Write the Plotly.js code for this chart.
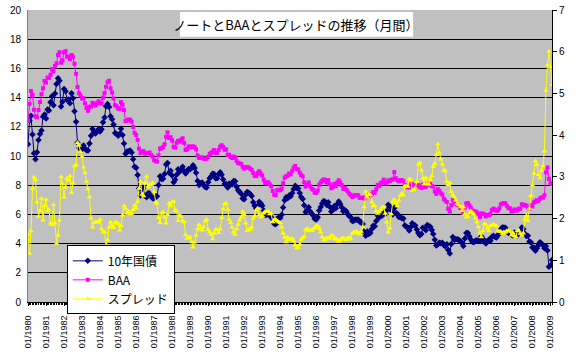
<!DOCTYPE html>
<html>
<head>
<meta charset="utf-8">
<script src="https://cdn.plot.ly/plotly-3.0.1.min.js"></script>
<style>html,body{margin:0;padding:0;background:#fff;}#chart{width:580px;height:354px;}</style>
</head>
<body>
<div id="chart"></div>
<script>
const startYear = 1980;
const titleText = "ノートとBAAとスプレッドの推移（月間）";
const seriesNames = ["10年国債", "BAA", "スプレッド"];
// 10-year treasury yield, monthly, 01/1980 - 02/2009
const tenYear = [
 10.80,12.41,12.75,11.47,10.18,9.78,10.25,11.10,11.51,11.75,12.68,12.84,
 12.57,13.19,13.12,13.68,14.10,13.47,14.28,14.94,15.32,15.15,13.39,13.72,
 14.59,14.43,13.86,13.87,13.62,14.30,13.95,13.06,12.34,10.91,10.55,10.54,
 10.46,10.72,10.51,10.40,10.38,10.85,11.38,11.85,11.65,11.54,11.69,11.83,
 11.67,11.84,12.32,12.63,13.41,13.56,13.36,12.72,12.52,12.16,11.57,11.50,
 11.38,11.51,11.86,11.43,10.85,10.16,10.31,10.33,10.37,10.24,9.78,9.26,
 9.19,8.70,7.78,7.30,7.71,7.80,7.30,7.17,7.45,7.43,7.25,7.11,
 7.08,7.25,7.25,8.02,8.61,8.40,8.45,8.76,9.42,9.52,8.86,8.99,
 8.67,8.21,8.37,8.72,9.09,8.92,9.06,9.26,8.98,8.80,8.96,9.11,
 9.09,9.17,9.36,9.18,8.86,8.28,8.02,8.11,8.19,8.01,7.87,7.84,
 8.21,8.47,8.59,8.79,8.76,8.48,8.47,8.75,8.89,8.72,8.39,8.08,
 8.09,7.85,8.11,8.04,8.07,8.28,8.27,7.90,7.65,7.53,7.42,7.09,
 7.03,7.34,7.54,7.48,7.39,7.26,6.84,6.59,6.42,6.59,6.87,6.77,
 6.60,6.26,5.98,5.97,6.04,5.96,5.81,5.68,5.36,5.33,5.72,5.77,
 5.75,5.97,6.48,6.97,7.18,7.10,7.30,7.24,7.46,7.74,7.96,7.81,
 7.78,7.47,7.20,7.06,6.63,6.17,6.28,6.49,6.20,6.04,5.93,5.71,
 5.65,5.81,6.27,6.51,6.74,6.91,6.87,6.64,6.83,6.53,6.20,6.30,
 6.58,6.42,6.69,6.89,6.71,6.49,6.22,6.30,6.21,6.03,5.88,5.81,
 5.54,5.57,5.65,5.64,5.65,5.50,5.46,5.34,4.81,4.53,4.83,4.65,
 4.72,5.00,5.23,5.18,5.54,5.90,5.79,5.94,5.92,6.11,6.03,6.28,
 6.66,6.52,6.26,5.99,6.44,6.10,6.05,5.83,5.80,5.74,5.72,5.24,
 5.16,5.10,4.89,5.14,5.39,5.28,5.24,4.97,4.73,4.57,4.65,5.09,
 5.04,4.91,5.28,5.21,5.16,4.93,4.65,4.26,3.87,3.94,4.05,4.03,
 4.05,3.90,3.81,3.96,3.57,3.33,3.98,4.45,4.27,4.29,4.30,4.27,
 4.15,4.08,3.83,4.35,4.72,4.73,4.50,4.28,4.13,4.10,4.19,4.23,
 4.22,4.17,4.50,4.34,4.14,4.00,4.18,4.26,4.20,4.46,4.54,4.47,
 4.42,4.57,4.72,4.99,5.11,5.11,5.09,4.88,4.72,4.73,4.60,4.56,
 4.76,4.72,4.56,4.69,4.75,5.10,5.00,4.67,4.52,4.53,4.15,4.10,
 3.74,3.74,3.51,3.68,3.88,4.10,4.01,3.89,3.69,3.81,3.53,2.42,
 2.52,2.87
];
// Moody's BAA corporate yield, monthly, 01/1980 - 02/2009
const baa = [
 12.42,13.57,14.45,14.19,13.17,12.71,12.65,13.15,13.70,14.23,14.64,15.14,
 15.03,15.37,15.34,15.56,15.95,15.80,16.17,16.34,16.92,17.11,16.39,16.55,
 17.10,17.18,16.82,16.78,16.64,16.92,16.80,16.32,15.63,14.73,14.30,14.14,
 13.94,13.95,13.61,13.29,13.09,13.37,13.39,13.64,13.55,13.46,13.61,13.75,
 13.65,13.59,13.99,14.31,14.74,15.05,15.15,14.63,14.35,13.94,13.48,13.40,
 13.26,13.23,13.69,13.51,13.15,12.40,12.43,12.50,12.48,12.36,11.99,11.58,
 11.44,11.11,10.50,10.19,10.29,10.34,10.16,10.18,10.20,10.24,10.07,9.97,
 9.72,9.65,9.61,10.04,10.51,10.52,10.61,10.80,11.31,11.62,11.23,11.29,
 11.07,10.62,10.57,10.90,11.04,11.00,11.11,11.21,10.90,10.41,10.48,10.65,
 10.65,10.61,10.67,10.61,10.46,10.03,9.87,9.88,9.91,9.81,9.81,9.82,
 9.94,10.14,10.21,10.30,10.41,10.22,10.20,10.41,10.64,10.74,10.62,10.43,
 10.45,10.07,10.09,9.94,9.86,9.96,9.89,9.65,9.51,9.49,9.45,9.26,
 9.13,9.23,9.25,9.21,9.13,9.05,8.84,8.65,8.62,8.84,8.96,8.81,
 8.67,8.39,8.15,8.14,8.21,8.07,7.93,7.60,7.34,7.31,7.66,7.69,
 7.65,7.76,8.13,8.52,8.62,8.65,8.80,8.74,8.98,9.20,9.32,9.10,
 9.08,8.85,8.70,8.60,8.20,7.90,8.04,8.19,7.93,7.75,7.68,7.49,
 7.47,7.63,8.03,8.19,8.30,8.40,8.35,8.18,8.35,8.07,7.79,7.89,
 8.09,7.94,8.18,8.34,8.20,8.02,7.75,7.82,7.70,7.57,7.42,7.32,
 7.19,7.25,7.32,7.33,7.30,7.13,7.15,7.14,7.09,7.18,7.34,7.23,
 7.29,7.39,7.53,7.48,7.72,8.02,7.95,8.15,8.20,8.38,8.15,8.19,
 8.33,8.29,8.37,8.40,8.90,8.48,8.35,8.26,8.35,8.34,8.28,8.02,
 7.93,7.87,7.84,8.07,8.07,7.97,7.97,7.85,8.03,7.91,7.81,8.05,
 7.87,7.89,8.11,8.03,8.09,7.95,7.90,7.58,7.40,7.73,7.62,7.45,
 7.35,7.06,6.95,6.85,6.38,6.19,6.62,7.01,6.79,6.73,6.66,6.60,
 6.44,6.27,6.11,6.46,6.75,6.78,6.62,6.46,6.27,6.21,6.20,6.15,
 6.02,5.82,6.06,6.05,6.01,5.86,5.95,5.96,6.03,6.30,6.39,6.32,
 6.24,6.27,6.41,6.68,6.75,6.78,6.76,6.59,6.43,6.42,6.20,6.22,
 6.34,6.28,6.27,6.39,6.39,6.70,6.65,6.65,6.59,6.48,6.40,6.65,
 6.54,6.82,6.89,6.97,6.93,7.07,7.16,7.15,7.31,8.88,9.21,8.43,
 8.14,8.08
];
// spread = BAA - 10-year
const spread = baa.map((v, i) => Math.round((v - tenYear[i]) * 100) / 100);

const months = baa.map((_, i) => {
  const y = startYear + Math.floor(i / 12);
  const m = (i % 12) + 1;
  return y + "-" + (m < 10 ? "0" + m : m) + "-01";
});
const tickYears = [];
for (let y = startYear; y <= 2009; y++) tickYears.push(y);
const tickVals = tickYears.map(y => y + "-01-01");
const tickText = tickYears.map(y => "01/" + y);

const font = "Liberation Sans, Arial, sans-serif";
const jfont = "Noto Sans CJK JP, sans-serif";

const traces = [
  {x: months, y: tenYear, name: seriesNames[0], type: "scatter", mode: "lines+markers",
   line: {color: "#000080", width: 1}, marker: {symbol: "diamond", size: 5, color: "#000080"}},
  {x: months, y: baa, name: seriesNames[1], type: "scatter", mode: "lines+markers",
   line: {color: "#FF00FF", width: 1}, marker: {symbol: "square", size: 4, color: "#FF00FF"}},
  {x: months, y: spread, name: seriesNames[2], type: "scatter", mode: "lines+markers", yaxis: "y2",
   line: {color: "#FFFF00", width: 1}, marker: {symbol: "triangle-up", size: 5, color: "#FFFF00"}}
];

const layout = {
  width: 580, height: 354,
  margin: {l: 28, r: 28, t: 10, b: 52},
  paper_bgcolor: "#FFFFFF",
  plot_bgcolor: "#C0C0C0",
  showlegend: true,
  hovermode: false,
  title: {text: titleText, font: {family: jfont, size: 13, color: "#000"},
          x: 0.51, xanchor: "center", xref: "container", y: 0.929, yanchor: "middle", yref: "container"},
  xaxis: {
    type: "date",
    range: ["1980-01-01", "2009-02-01"],
    tickmode: "array", tickvals: tickVals, ticktext: tickText,
    tickangle: -90,
    tickfont: {family: font, size: 9, color: "#000"},
    ticks: "outside", ticklen: 3, tickcolor: "#000",
    ticklabelstandoff: 6,
    minor: {dtick: "M1", ticks: "outside", ticklen: 2, tickcolor: "#000", showgrid: false},
    showgrid: false, zeroline: false,
    showline: true, linecolor: "#000", linewidth: 1, mirror: false
  },
  yaxis: {
    range: [0, 20], dtick: 2, tick0: 0,
    tickfont: {family: font, size: 10, color: "#000"},
    showgrid: true, gridcolor: "#000", gridwidth: 1,
    zeroline: false, showline: true, linecolor: "#808080", linewidth: 1, mirror: true,
    ticks: "", ticklabelstandoff: 4
  },
  yaxis2: {
    overlaying: "y", side: "right",
    range: [0, 7], dtick: 1, tick0: 0,
    tickfont: {family: font, size: 10, color: "#000"},
    showgrid: false, zeroline: false,
    ticks: "outside", ticklen: 4, tickcolor: "#000",
    showline: true, linecolor: "#000", linewidth: 1
  },
  legend: {
    x: 0.074, y: 0.194, xanchor: "left", yanchor: "top",
    bgcolor: "#FFFFFF", bordercolor: "#000", borderwidth: 1,
    font: {family: jfont, size: 12, color: "#000"},
    tracegroupgap: 0, itemwidth: 30
  },
  shapes: [
    {type: "rect", xref: "paper", yref: "paper", x0: 0.29, x1: 0.735, y0: 0.908, y1: 0.993,
     fillcolor: "#FFFFFF", line: {width: 0}, layer: "above"}
  ]
};

Plotly.newPlot("chart", traces, layout, {staticPlot: true, displayModeBar: false});
</script>
</body>
</html>
